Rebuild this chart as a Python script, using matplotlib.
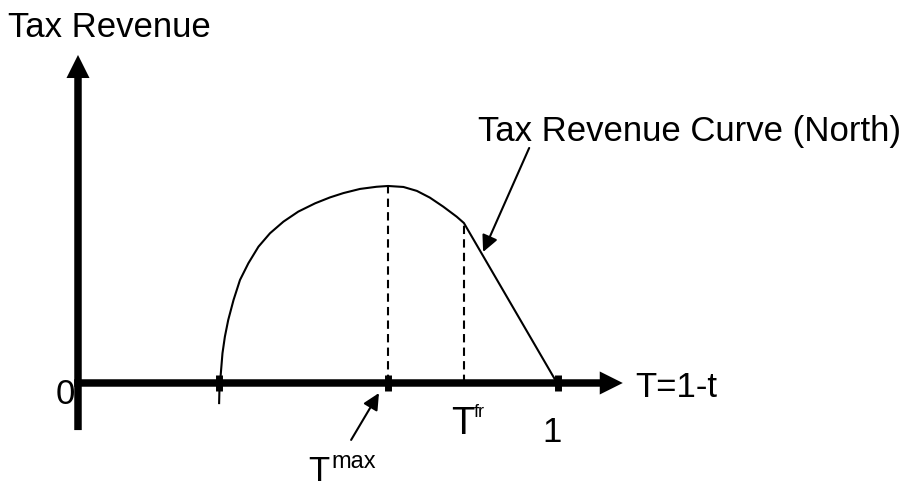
import matplotlib
matplotlib.use('Agg')
import matplotlib.pyplot as plt

plt.rcParams['font.family'] = ['Liberation Sans', 'DejaVu Sans']

# revenue curve (T on the x axis, revenue scaled so the peak is 1)
curve_T = [0.294, 0.295, 0.297, 0.301, 0.306, 0.313, 0.324, 0.3375, 0.355,
           0.376, 0.400, 0.428, 0.459, 0.494, 0.525, 0.553, 0.5875, 0.622,
           0.646, 0.678, 0.706, 0.733, 0.761, 0.789, 0.804, 0.998]
curve_R = [-0.102, 0.0, 0.032, 0.151, 0.235, 0.320, 0.421, 0.523, 0.608,
           0.692, 0.760, 0.819, 0.870, 0.912, 0.942, 0.964, 0.985, 0.996,
           1.0, 0.995, 0.975, 0.941, 0.895, 0.844, 0.812, 0.0]

tick_T = [0.294, 0.646, 1.0]
T_max, R_max = 0.646, 1.0
T_fr, R_fr = 0.804, 0.812

FS = 25
fig = plt.figure(figsize=(9.02, 4.88), dpi=100)
ax = fig.add_axes([0, 0, 1, 1])
ax.set_xlim(-0.1625, 1.7167)
ax.set_ylim(-0.533, 1.944)
ax.axis('off')

# axes with arrow heads
ax.arrow(0, -0.239, 0, 1.904, width=0.0156, head_width=0.048, head_length=0.117,
         length_includes_head=True, fc='k', ec='k', lw=0)
ax.arrow(-0.008, 0, 1.143, 0, width=0.038, head_width=0.117, head_length=0.048,
         length_includes_head=True, fc='k', ec='k', lw=0)

ax.plot(curve_T, curve_R, color='k', lw=1.5, solid_joinstyle='round')
ax.plot(tick_T, [0] * len(tick_T), ls='none', marker='|', ms=12.2, mew=5, color='k')

ax.plot([T_max, T_max], [0, R_max], color='k', lw=1.5, dashes=(4, 2.5))
ax.plot([T_fr, T_fr], [0, R_fr], color='k', lw=1.5, dashes=(4, 2.5))

# labels
ax.text(-0.146, 1.756, 'Tax Revenue', fontsize=FS, va='baseline', ha='left')
ax.text(0.833, 1.228, 'Tax Revenue Curve (North)', fontsize=FS, va='baseline', ha='left')
ax.text(-0.006, -0.107, '0', fontsize=FS, va='baseline', ha='right')
ax.text(1.160, -0.0695, 'T=1-t', fontsize=FS, va='baseline', ha='left')
ax.text(0.988, -0.299, '1', fontsize=FS, va='baseline', ha='center')

ax.text(0.479, -0.495, 'T', fontsize=FS, va='baseline', ha='left')
ax.text(0.529, -0.434, 'max', fontsize=17, va='baseline', ha='left')
ax.text(0.777, -0.259, 'T', fontsize=27.5, va='baseline', ha='left')
ax.text(0.824, -0.173, 'fr', fontsize=13, va='baseline', ha='left')

arrow_kw = dict(arrowstyle='-|>,head_length=0.45,head_width=0.22', color='k',
                lw=1.5, mutation_scale=22, shrinkA=0, shrinkB=0)
ax.annotate('', xy=(0.844, 0.665), xytext=(0.940, 1.193), arrowprops=arrow_kw)
ax.annotate('', xy=(0.627, -0.051), xytext=(0.569, -0.289), arrowprops=arrow_kw)

fig.savefig('out.png', dpi=100)
